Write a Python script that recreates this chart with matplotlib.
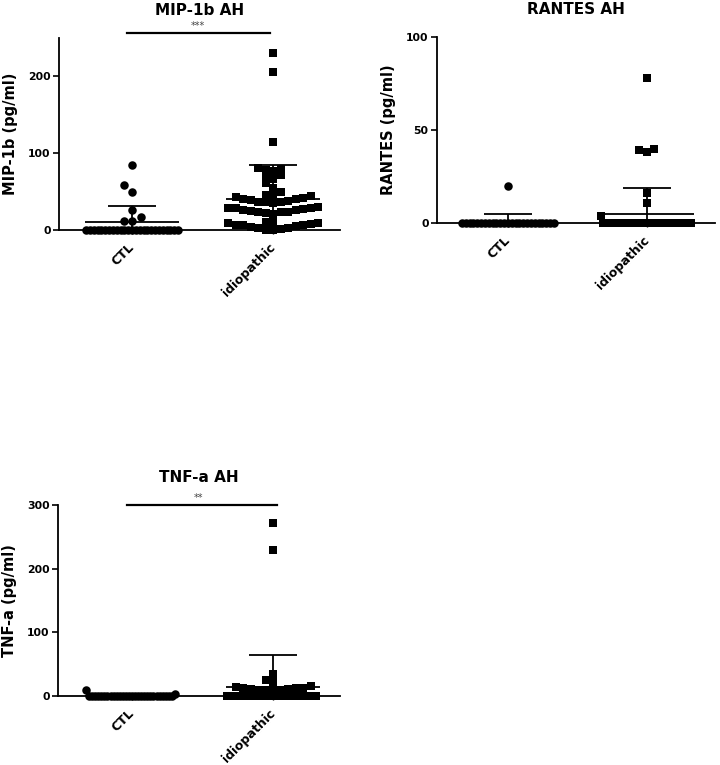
import numpy as np
import matplotlib
matplotlib.use("Agg")
import matplotlib.pyplot as plt

plt.rcParams["font.family"] = ["DejaVu Sans"]
plt.rcParams["font.weight"] = "bold"

groups = ["CTL", "idiopathic"]

# ---- MIP-1b AH ----
mip_ctl = [84, 59, 50, 26, 17, 12, 12] + [0] * 25
mip_idio = [230, 206, 114, 81, 80, 78, 77, 72, 70, 66, 61, 55, 50,
            45, 45, 44, 43, 42, 41, 40, 39, 38, 37, 37, 36, 35,
            30, 29, 29, 28, 27, 26, 26, 25, 24, 24, 23, 22, 21,
            10, 10, 9, 9, 8, 7, 7, 6, 5, 4, 3, 2, 1, 0, 0]
mip_mean = [10, 40]
mip_sd = [21, 45]

# ---- RANTES AH ----
rantes_ctl = [20] + [0] * 25
rantes_idio = [78, 40, 39, 38, 16, 11, 4] + [0] * 41
rantes_mean = [0.8, 4.6]
rantes_sd = [4.0, 14.4]

# ---- TNF-a AH ----
tnf_ctl = [10, 3] + [0] * 28
tnf_idio = [271, 229, 34, 25, 22, 16, 14, 13, 12, 12, 11, 11, 10, 10, 10, 10] + [0] * 34
tnf_mean = [0.4, 14]
tnf_sd = [2.0, 50]

W, H = 720, 765
fig = plt.figure(figsize=(W / 100, H / 100), dpi=100)


def px_axes(l, r, b, t):
    return fig.add_axes([l / W, (H - b) / H, (r - l) / W, (b - t) / H])


MARK_PX = {"o": 8.5, "s": 7.5}
HALF_MAX = 46.0


def swarm_offsets(vals, ypx_per_unit, diam_px, hfrac):
    vals = np.asarray(vals, dtype=float)
    order = np.argsort(vals, kind="stable")
    h = hfrac * diam_px / ypx_per_unit
    rows = []
    cur = []
    start = None
    for idx in order:
        v = vals[idx]
        if start is None or v - start >= h:
            if cur:
                rows.append(cur)
            cur = [idx]
            start = v
        else:
            cur.append(idx)
    if cur:
        rows.append(cur)
    offs = np.zeros(len(vals))
    for row in rows:
        n = len(row)
        kmax = n // 2
        d = diam_px
        if kmax > 0 and kmax * d > HALF_MAX:
            d = HALF_MAX / kmax
        for i, idx in enumerate(row):
            k = (i + 1) // 2
            sign = -1 if i % 2 == 1 else 1
            offs[idx] = sign * k * d
    return offs


def panel(ax, title, ylabel, ctl, idio, means, sds, ylim, yticks, xlim, hfrac=1.0):
    ax.set_xlim(*xlim)
    ax.set_ylim(*ylim)
    fig.canvas.draw()
    p0 = ax.transData.transform((0, 0))
    p1 = ax.transData.transform((1, 1))
    xppu = p1[0] - p0[0]
    yppu = p1[1] - p0[1]
    for gi, (vals, mk) in enumerate([(ctl, "o"), (idio, "s")]):
        offs = swarm_offsets(vals, yppu, MARK_PX[mk], hfrac)
        xs = gi + offs / xppu
        ax.scatter(xs, vals, marker=mk, s=(MARK_PX[mk] * 0.72) ** 2,
                   color="black", linewidths=0, zorder=2, clip_on=False)
        m, sd = means[gi], sds[gi]
        wm = 47 / xppu
        wc = 24 / xppu
        kw = dict(color="black", lw=1.3, zorder=3, solid_capstyle="butt")
        ax.plot([gi - wm, gi + wm], [m, m], **kw)
        ax.plot([gi, gi], [m - sd, m + sd], **kw)
        ax.plot([gi - wc, gi + wc], [m + sd, m + sd], **kw)
        ax.plot([gi - wc, gi + wc], [m - sd, m - sd], **kw)
    for s in ["top", "right"]:
        ax.spines[s].set_visible(False)
    for s in ["left", "bottom"]:
        ax.spines[s].set_linewidth(1.3)
    ax.set_yticks(yticks)
    ax.set_yticklabels([str(t) for t in yticks], fontsize=7.8, fontweight="bold")
    ax.set_xticks([0, 1])
    ax.set_xticklabels(groups, fontsize=9, fontweight="bold", rotation=45,
                       ha="right", va="center", rotation_mode="anchor")
    ax.tick_params(axis="y", length=4, width=1.2, pad=2)
    ax.tick_params(axis="x", length=3, width=1.0, pad=8)
    ax.set_ylabel(ylabel, fontsize=10.5, fontweight="bold", labelpad=7)
    ax.set_title(title, fontsize=11, fontweight="bold", pad=16.5)


ax1 = px_axes(59, 340, 230, 38)
panel(ax1, "MIP-1b AH", "MIP-1b (pg/ml)", mip_ctl, mip_idio, mip_mean, mip_sd,
      (0, 250), [0, 100, 200], (-0.518, 1.475))
ax1.plot([-0.035, 0.98], [257, 257], color="black", lw=1.6, clip_on=False)
ax1.text(0.47, 259, "***", ha="center", va="bottom", fontsize=7, color="#444444",
         fontweight="normal", clip_on=False)

ax2 = px_axes(437, 715, 223, 37)
panel(ax2, "RANTES AH", "RANTES (pg/ml)", rantes_ctl, rantes_idio, rantes_mean, rantes_sd,
      (0, 100), [0, 50, 100], (-0.51, 1.49))

ax3 = px_axes(58, 340, 696, 505)
panel(ax3, "TNF-a AH", "TNF-a (pg/ml)", tnf_ctl, tnf_idio, tnf_mean, tnf_sd,
      (0, 300), [0, 100, 200, 300], (-0.525, 1.475), hfrac=0.8)
ax3.plot([-0.035, 1.03], [300, 300], color="black", lw=1.6, clip_on=False)
ax3.text(0.47, 303, "**", ha="center", va="bottom", fontsize=7, color="#444444",
         fontweight="normal", clip_on=False)

fig.savefig("out.png", dpi=100)
